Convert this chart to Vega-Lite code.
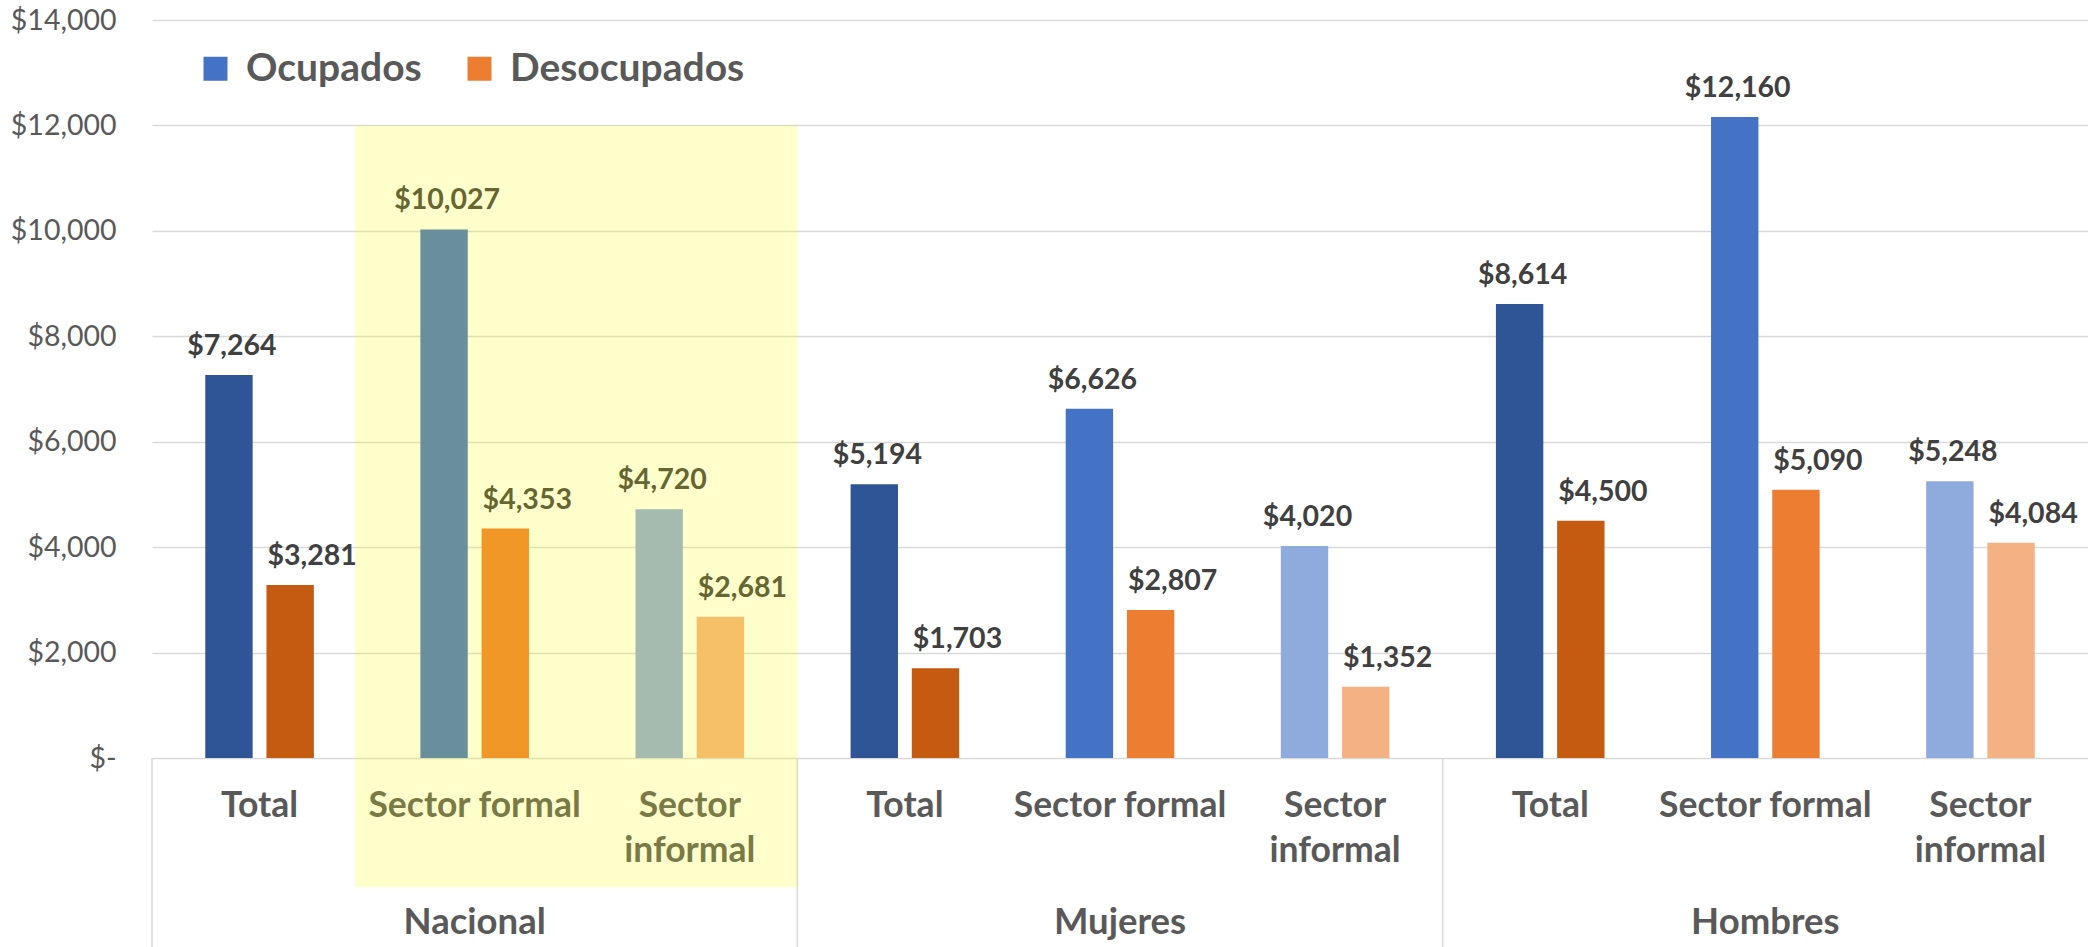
{
  "$schema": "https://vega.github.io/schema/vega-lite/v6.json",
  "width": 1936,
  "height": 927,
  "padding": {"left": 152, "top": 20, "right": 0, "bottom": 0},
  "autosize": {"type": "none"},
  "background": "white",
  "config": {"view": {"stroke": null}, "font": "Lato"},
  "data": {
    "values": [
      {"grupo": "Nacional", "sector": "Total", "serie": "Ocupados", "valor": 7264},
      {"grupo": "Nacional", "sector": "Total", "serie": "Desocupados", "valor": 3281},
      {"grupo": "Nacional", "sector": "Sector formal", "serie": "Ocupados", "valor": 10027},
      {"grupo": "Nacional", "sector": "Sector formal", "serie": "Desocupados", "valor": 4353},
      {"grupo": "Nacional", "sector": "Sector informal", "serie": "Ocupados", "valor": 4720},
      {"grupo": "Nacional", "sector": "Sector informal", "serie": "Desocupados", "valor": 2681},
      {"grupo": "Mujeres", "sector": "Total", "serie": "Ocupados", "valor": 5194},
      {"grupo": "Mujeres", "sector": "Total", "serie": "Desocupados", "valor": 1703},
      {"grupo": "Mujeres", "sector": "Sector formal", "serie": "Ocupados", "valor": 6626},
      {"grupo": "Mujeres", "sector": "Sector formal", "serie": "Desocupados", "valor": 2807},
      {"grupo": "Mujeres", "sector": "Sector informal", "serie": "Ocupados", "valor": 4020},
      {"grupo": "Mujeres", "sector": "Sector informal", "serie": "Desocupados", "valor": 1352},
      {"grupo": "Hombres", "sector": "Total", "serie": "Ocupados", "valor": 8614},
      {"grupo": "Hombres", "sector": "Total", "serie": "Desocupados", "valor": 4500},
      {"grupo": "Hombres", "sector": "Sector formal", "serie": "Ocupados", "valor": 12160},
      {"grupo": "Hombres", "sector": "Sector formal", "serie": "Desocupados", "valor": 5090},
      {"grupo": "Hombres", "sector": "Sector informal", "serie": "Ocupados", "valor": 5248},
      {"grupo": "Hombres", "sector": "Sector informal", "serie": "Desocupados", "valor": 4084}
    ]
  },
  "transform": [
    {"calculate": "datum.grupo + '|' + datum.sector", "as": "key"},
    {"calculate": "datum.sector + '|' + datum.serie", "as": "tono"},
    {"calculate": "datum.sector === 'Sector informal' ? ['Sector', 'informal'] : datum.sector", "as": "etiqueta"}
  ],
  "layer": [
    {
      "mark": {"type": "bar"},
      "encoding": {
        "x": {"field": "key", "type": "nominal", "axis": null,
          "scale": {"domain": ["Nacional|Total", "Nacional|Sector formal", "Nacional|Sector informal", "Mujeres|Total", "Mujeres|Sector formal", "Mujeres|Sector informal", "Hombres|Total", "Hombres|Sector formal", "Hombres|Sector informal"], "paddingInner": 0, "paddingOuter": 0}},
        "xOffset": {"field": "serie", "type": "nominal",
          "scale": {"domain": ["Ocupados", "Desocupados"], "paddingInner": 0.2258, "paddingOuter": 0.87}},
        "y": {"field": "valor", "type": "quantitative",
          "scale": {"domain": [-3585, 14000], "nice": false, "zero": false},
          "axis": {"values": [0, 2000, 4000, 6000, 8000, 10000, 12000, 14000],
            "labelExpr": "datum.value === 0 ? '$-\u00a0\u00a0' : '$' + format(datum.value, ',')",
            "domain": false, "ticks": false, "grid": true, "gridColor": "#D9D9D9", "gridWidth": 1.5,
            "labelFont": "Lato", "labelFontSize": 28.5, "labelColor": "#595959", "labelPadding": 36, "title": null}},
        "fill": {"field": "tono", "type": "nominal", "legend": null,
          "scale": {"domain": ["Total|Ocupados", "Total|Desocupados", "Sector formal|Ocupados", "Sector formal|Desocupados", "Sector informal|Ocupados", "Sector informal|Desocupados"],
            "range": ["#2F5597", "#C55A11", "#4472C4", "#ED7D31", "#8FAADC", "#F4B183"]}}
      }
    },
    {
      "mark": {"type": "square", "opacity": 0},
      "encoding": {
        "x": {"field": "key", "type": "nominal"},
        "xOffset": {"field": "serie", "type": "nominal"},
        "y": {"field": "valor", "type": "quantitative"},
        "color": {"field": "serie", "type": "nominal",
          "scale": {"domain": ["Ocupados", "Desocupados"], "range": ["#4472C4", "#ED7D31"]},
          "legend": {"orient": "none", "legendX": 44, "legendY": 29, "direction": "horizontal", "title": null,
            "symbolType": "square", "symbolSize": 576, "symbolOpacity": 1, "symbolStrokeWidth": 0,
            "labelFont": "Lato", "labelFontSize": 39, "labelFontWeight": "bold", "labelColor": "#595959",
            "labelOffset": 11, "columnPadding": 38, "padding": 0, "labelLimit": 400}}
      }
    },
    {
      "transform": [{"filter": "datum.serie === 'Ocupados'"}],
      "mark": {"type": "text", "baseline": "middle", "align": "center", "dx": 3, "dy": -29, "font": "Lato", "fontSize": 28.5, "fontWeight": "bold", "color": "#404040"},
      "encoding": {
        "x": {"field": "key", "type": "nominal"},
        "xOffset": {"field": "serie", "type": "nominal"},
        "y": {"field": "valor", "type": "quantitative"},
        "text": {"field": "valor", "type": "quantitative", "format": "$,.0f"}
      }
    },
    {
      "transform": [{"filter": "datum.serie === 'Desocupados'"}],
      "mark": {"type": "text", "baseline": "middle", "align": "center", "dx": 22, "dy": -29, "font": "Lato", "fontSize": 28.5, "fontWeight": "bold", "color": "#404040"},
      "encoding": {
        "x": {"field": "key", "type": "nominal"},
        "xOffset": {"field": "serie", "type": "nominal"},
        "y": {"field": "valor", "type": "quantitative"},
        "text": {"field": "valor", "type": "quantitative", "format": "$,.0f"}
      }
    },
    {
      "transform": [{"filter": "datum.serie === 'Ocupados'"}],
      "mark": {"type": "text", "baseline": "top", "align": "center", "lineHeight": 45, "font": "Lato", "fontSize": 35.5, "fontWeight": "bold", "color": "#595959"},
      "encoding": {
        "x": {"field": "key", "type": "nominal"},
        "y": {"datum": -590, "type": "quantitative"},
        "text": {"field": "etiqueta"}
      }
    },
    {
      "transform": [{"filter": "datum.serie === 'Ocupados' && datum.sector === 'Sector formal'"}],
      "mark": {"type": "text", "baseline": "middle", "align": "center", "font": "Lato", "fontSize": 36.5, "fontWeight": "bold", "color": "#595959"},
      "encoding": {
        "x": {"field": "key", "type": "nominal"},
        "y": {"datum": -3130, "type": "quantitative"},
        "text": {"field": "grupo"}
      }
    },
    {
      "transform": [{"filter": "datum.serie === 'Ocupados' && datum.sector === 'Total'"}],
      "mark": {"type": "rule", "color": "#D9D9D9", "strokeWidth": 1.5},
      "encoding": {
        "x": {"field": "key", "type": "nominal", "bandPosition": 0},
        "y": {"datum": 0, "type": "quantitative"},
        "y2": {"datum": -3585}
      }
    },
    {
      "transform": [{"filter": "datum.serie === 'Ocupados' && datum.sector === 'Total' && datum.grupo === 'Nacional'"}],
      "mark": {"type": "rect", "fill": "#FFFF00", "opacity": 0.2, "xOffset": -12},
      "encoding": {
        "x": {"datum": "Nacional|Sector formal", "type": "nominal", "bandPosition": 0},
        "x2": {"datum": "Nacional|Sector informal", "bandPosition": 1},
        "y": {"datum": 12000, "type": "quantitative"},
        "y2": {"datum": -2450}
      }
    }
  ]
}
